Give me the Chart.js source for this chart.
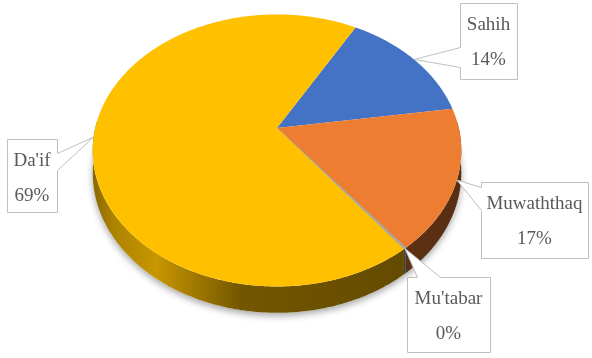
<!DOCTYPE html>
<html>
<head>
<meta charset="utf-8">
<script src="https://cdn.jsdelivr.net/npm/chart.js@4"></script>
<style>
  html, body { margin: 0; padding: 0; background: #fff; }
  #box { width: 592px; height: 358px; position: relative; }
</style>
</head>
<body>
<div id="box"><canvas id="pieHadith"></canvas></div>
<script>
// hadith grades and their share (%)
const grades = ['Sahih', 'Muwaththaq', "Mu'tabar", "Da'if"];
const shares = [14.4, 16.8, 0.2, 68.6];
const sliceColors = ['#4472C4', '#ED7D31', '#A5A5A5', '#FFC000'];

// view of the tilted disc
const TILT = 0.728;   // vertical squash
const PERSP = 6.06;   // eye distance, in radii
const ZOOM = 1.42;    // disc radius over the layout radius
const DEPTH = 22;     // thickness of the disc

// callout boxes: where each label sits and where its pointer leaves the box
const callouts = [
  { x: 460, y: 3, w: 57, h: 76, side: 'left', b1: 44, b2: 64 },
  { x: 481, y: 182, w: 107, h: 76, side: 'left', b1: 5, b2: 28 },
  { x: 407, y: 277, w: 83, h: 75, side: 'top', b1: 10, b2: 33 },
  { x: 7, y: 139, w: 50, h: 73, side: 'right', b1: 14, b2: 31 }
];

function proj(el, a, drop) {
  const r = el.outerRadius * ZOOM;
  const u = r * Math.cos(a);
  const v = -r * Math.sin(a); // positive = back of the disc
  const s = PERSP * r / (PERSP * r + v);
  return [el.x + u * s, el.y - v * TILT * s + (drop ? DEPTH * s : 0)];
}

function shade(hex, f) {
  const n = parseInt(hex.slice(1), 16);
  const c = [(n >> 16) & 255, (n >> 8) & 255, n & 255].map(x => Math.round(x * f));
  return 'rgb(' + c.join(',') + ')';
}

function rimPath(ctx, el, a0, a1, drop, first) {
  const n = Math.max(2, Math.ceil(Math.abs(a1 - a0) / 0.01));
  for (let i = 0; i <= n; i++) {
    const p = proj(el, a0 + (a1 - a0) * i / n, drop);
    if (i === 0 && first) ctx.moveTo(p[0], p[1]);
    else ctx.lineTo(p[0], p[1]);
  }
}

const pie3d = {
  id: 'pie3d',
  beforeDatasetsDraw(chart) {
    const ctx = chart.ctx;
    const arcs = chart.getDatasetMeta(0).data;
    const el0 = arcs[0];
    const r = el0.outerRadius * ZOOM;

    // soft shadow under the disc
    ctx.save();
    ctx.shadowColor = 'rgba(0,0,0,0.35)';
    ctx.shadowBlur = 7;
    ctx.shadowOffsetY = 3;
    ctx.beginPath();
    rimPath(ctx, el0, 0, Math.PI * 2, true, true);
    ctx.closePath();
    ctx.fillStyle = '#fff';
    ctx.fill();
    ctx.restore();

    // side walls (front half only)
    arcs.forEach((el, i) => {
      const lo = Math.max(el.startAngle, -0.05);
      const hi = Math.min(el.endAngle, Math.PI + 0.05);
      if (hi <= lo) return;
      const base = sliceColors[i];
      const g = ctx.createLinearGradient(el.x - r, 0, el.x + r, 0);
      g.addColorStop(0, shade(base, 0.55));
      g.addColorStop(0.05, shade(base, 0.68));
      g.addColorStop(0.17, shade(base, 0.78));
      g.addColorStop(0.4, shade(base, 0.45));
      g.addColorStop(1, shade(base, 0.37));
      ctx.beginPath();
      rimPath(ctx, el, lo, hi, false, true);
      rimPath(ctx, el, hi, lo, true, false);
      ctx.closePath();
      ctx.fillStyle = g;
      ctx.fill();
    });

    // top face
    arcs.forEach((el, i) => {
      ctx.beginPath();
      const c = proj(el, 0, false);
      ctx.moveTo(el.x, el.y);
      rimPath(ctx, el, el.startAngle, el.endAngle, false, false);
      ctx.closePath();
      ctx.fillStyle = sliceColors[i];
      ctx.fill();
      if (el.endAngle - el.startAngle < 0.03) {
        ctx.strokeStyle = sliceColors[i];
        ctx.lineWidth = 1;
        ctx.stroke();
      }
    });
    return false;
  },
  afterDraw(chart) {
    const ctx = chart.ctx;
    const arcs = chart.getDatasetMeta(0).data;
    const total = shares.reduce((a, b) => a + b, 0);
    ctx.save();
    arcs.forEach((el, i) => {
      const b = callouts[i];
      const tip = proj(el, (el.startAngle + el.endAngle) / 2, false);
      const x = b.x + 0.5, y = b.y + 0.5, w = b.w, h = b.h;
      ctx.beginPath();
      ctx.moveTo(x, y);
      if (b.side === 'top') {
        ctx.lineTo(x + b.b1, y); ctx.lineTo(tip[0], tip[1]); ctx.lineTo(x + b.b2, y);
      }
      ctx.lineTo(x + w, y);
      if (b.side === 'right') {
        ctx.lineTo(x + w, y + b.b1); ctx.lineTo(tip[0], tip[1]); ctx.lineTo(x + w, y + b.b2);
      }
      ctx.lineTo(x + w, y + h);
      ctx.lineTo(x, y + h);
      if (b.side === 'left') {
        ctx.lineTo(x, y + b.b2); ctx.lineTo(tip[0], tip[1]); ctx.lineTo(x, y + b.b1);
      }
      ctx.closePath();
      ctx.fillStyle = '#fff';
      ctx.fill();
      ctx.strokeStyle = '#bfbfbf';
      ctx.lineWidth = 1;
      ctx.stroke();

      ctx.fillStyle = '#595959';
      ctx.font = '19px "Liberation Serif"';
      ctx.textAlign = 'center';
      ctx.textBaseline = 'middle';
      ctx.fillText(grades[i], b.x + w / 2, b.y + 22);
      ctx.fillText(Math.round(shares[i] / total * 100) + '%', b.x + w / 2, b.y + 57);
    });
    ctx.restore();
  }
};

new Chart(document.getElementById('pieHadith'), {
  type: 'pie',
  data: {
    labels: grades,
    datasets: [{
      data: shares,
      backgroundColor: sliceColors,
      borderWidth: 0
    }]
  },
  options: {
    responsive: true,
    maintainAspectRatio: false,
    animation: false,
    rotation: 29.6,
    layout: { padding: { left: 0, right: 38, top: 0, bottom: 102 } },
    plugins: {
      legend: { display: false },
      tooltip: { enabled: false }
    }
  },
  plugins: [pie3d]
});
</script>
</body>
</html>
